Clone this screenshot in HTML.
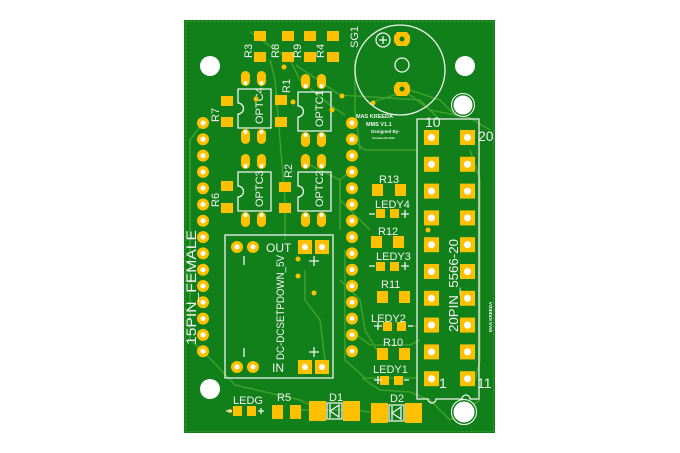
<!DOCTYPE html>
<html><head><meta charset="utf-8"><style>
html,body{margin:0;padding:0;background:#fff;width:680px;height:453px;overflow:hidden}
svg{display:block}
text{font-family:"Liberation Sans",sans-serif;fill:#f2f2f2}
.p{fill:#ffc000}
.s{fill:none;stroke:#f2f2f2;stroke-width:1.3}
.t{fill:none;stroke:#3c9f2c;stroke-width:1.6}
</style></head><body>
<svg width="680" height="453" viewBox="0 0 680 453" xmlns="http://www.w3.org/2000/svg">
<rect x="184" y="20" width="311" height="413" fill="#11801a"/>
<rect x="185.5" y="21.5" width="308" height="410" fill="none" stroke="#3c9f2c" stroke-width="1" stroke-dasharray="2,2"/>
<g class="t">
<path d="M250 32 L290 60 L300 80 L330 105 L345 115"/>
<path d="M296 65 L340 95 L420 100 L440 120"/>
<path d="M372 102 L385 98 L410 90 L440 100 L455 115"/>
<path d="M402 89 L430 110 L470 118 L490 130"/>
<path d="M352 140 L365 150 L417 150"/>
<path d="M370 230 L340 200 L340 180 L352 170"/>
<path d="M345 250 L345 360 L365 378 L417 378"/>
<path d="M340 280 L360 300 L365 330 L380 355"/>
<path d="M203 351 L235 385 L300 400 L320 410"/>
<path d="M203 123 L190 140 L190 340 L203 351"/>
<path d="M362 378 L380 390 L410 392 L430 400 L450 420 L480 400"/>
<path d="M408 326 L417 326"/>
<path d="M350 330 L370 345 L410 345 L420 340"/>
<path d="M470 150 L480 180 L480 360 L475 380"/>
<path d="M355 60 L355 110 L360 150"/>
<path d="M305 270 L305 300 L320 320 L325 360"/>
<path d="M300 410 L355 410 L370 412"/>
<path d="M270 60 L275 80 L285 200 L285 240"/>
<path d="M300 160 L340 180 L340 230"/>
</g>
<circle cx="210" cy="66" r="10" fill="#fff"/>
<circle cx="465" cy="66" r="10" fill="#fff"/>
<circle cx="210" cy="389" r="10" fill="#fff"/>
<circle cx="464" cy="412" r="11" fill="#fff" stroke="#11801a" stroke-width="1"/>
<circle cx="464" cy="412" r="12.5" fill="none" stroke="#fff" stroke-width="1"/>
<circle cx="463" cy="105" r="10" fill="#fff" stroke="#11801a" stroke-width="1"/>
<circle cx="463" cy="105" r="11.5" fill="none" stroke="#fff" stroke-width="1"/>
<g id="hdr">
<g class="p">
<circle cx="203" cy="123" r="6"/><circle cx="203" cy="139.3" r="6"/><circle cx="203" cy="155.6" r="6"/><circle cx="203" cy="171.9" r="6"/><circle cx="203" cy="188.2" r="6"/><circle cx="203" cy="204.5" r="6"/><circle cx="203" cy="220.8" r="6"/><circle cx="203" cy="237.1" r="6"/><circle cx="203" cy="253.4" r="6"/><circle cx="203" cy="269.7" r="6"/><circle cx="203" cy="286" r="6"/><circle cx="203" cy="302.3" r="6"/><circle cx="203" cy="318.6" r="6"/><circle cx="203" cy="334.9" r="6"/><circle cx="203" cy="351.2" r="6"/>
</g>
<g fill="#fff">
<circle cx="203" cy="123" r="2.5"/><circle cx="203" cy="139.3" r="2.5"/><circle cx="203" cy="155.6" r="2.5"/><circle cx="203" cy="171.9" r="2.5"/><circle cx="203" cy="188.2" r="2.5"/><circle cx="203" cy="204.5" r="2.5"/><circle cx="203" cy="220.8" r="2.5"/><circle cx="203" cy="237.1" r="2.5"/><circle cx="203" cy="253.4" r="2.5"/><circle cx="203" cy="269.7" r="2.5"/><circle cx="203" cy="286" r="2.5"/><circle cx="203" cy="302.3" r="2.5"/><circle cx="203" cy="318.6" r="2.5"/><circle cx="203" cy="334.9" r="2.5"/><circle cx="203" cy="351.2" r="2.5"/>
</g>
</g>
<use href="#hdr" x="149"/>
<g class="p">
<rect x="254" y="31" width="12" height="10"/><rect x="254" y="52" width="12" height="10"/>
<rect x="282" y="31" width="12" height="10"/><rect x="282" y="52" width="12" height="10"/>
<rect x="304" y="31" width="12" height="10"/><rect x="304" y="52" width="12" height="10"/>
<rect x="327" y="31" width="12" height="10"/><rect x="327" y="52" width="12" height="10"/>
<rect x="221" y="96" width="12" height="10"/><rect x="221" y="117" width="12" height="10"/>
<rect x="275" y="95" width="12" height="10"/><rect x="275" y="117" width="12" height="10"/>
<rect x="221" y="181" width="12" height="10"/><rect x="221" y="203" width="12" height="10"/>
<rect x="279" y="182" width="12" height="10"/><rect x="279" y="203" width="12" height="10"/>
</g>
<g font-size="11">
<text transform="translate(252,58) rotate(-90)">R3</text>
<text transform="translate(279,58) rotate(-90)">R8</text>
<text transform="translate(301,58) rotate(-90)">R9</text>
<text transform="translate(324,58) rotate(-90)">R4</text>
<text transform="translate(358,48) rotate(-90)">SG1</text>
<text transform="translate(219,122) rotate(-90)">R7</text>
<text transform="translate(219,207) rotate(-90)">R6</text>
<text transform="translate(290,93) rotate(-90)">R1</text>
<text transform="translate(292,178) rotate(-90)">R2</text>
</g>
<g id="opt">
<g class="p">
<rect x="241" y="71" width="9" height="15" rx="4.5"/><rect x="257" y="71" width="9" height="15" rx="4.5"/>
<rect x="241" y="129" width="9" height="15" rx="4.5"/><rect x="257" y="129" width="9" height="15" rx="4.5"/>
</g>
<g fill="#fff"><circle cx="245.5" cy="83" r="2"/><circle cx="261.5" cy="83" r="2"/><circle cx="245.5" cy="132" r="2"/><circle cx="261.5" cy="132" r="2"/></g>
<path class="s" d="M238 89 H271 V128 H238 V114 A5 5 0 0 0 238 103 Z"/>
</g>
<use href="#opt" x="60" y="3"/>
<use href="#opt" x="0" y="83"/>
<use href="#opt" x="60" y="83"/>
<g font-size="11">
<text transform="translate(263,124) rotate(-90)">OPTC4</text>
<text transform="translate(323,127) rotate(-90)">OPTC1</text>
<text transform="translate(263,207) rotate(-90)">OPTC3</text>
<text transform="translate(323,207) rotate(-90)">OPTC2</text>
</g>
<g fill="#ffc000"><circle cx="284" cy="67" r="2.5"/><circle cx="256" cy="99" r="2.5"/><circle cx="293" cy="102" r="2.5"/><circle cx="332" cy="110" r="2.5"/><circle cx="342" cy="96" r="2.5"/><circle cx="373" cy="103" r="2.5"/><circle cx="298" cy="259" r="2.5"/><circle cx="298" cy="276" r="2.5"/><circle cx="314" cy="293" r="2.5"/><circle cx="428" cy="230" r="2.5"/></g>
<circle cx="400" cy="70" r="45" class="s"/>
<circle cx="383" cy="40" r="7" class="s"/>
<path d="M383 36 V44 M379 40 H387" class="s"/>
<polygon class="p" points="397,32 407,32 410,36 410,42 407,46 397,46 394,42 394,36"/>
<circle cx="402" cy="39" r="2.5" fill="#11801a"/>
<circle cx="402" cy="65" r="7" class="s"/>
<polygon class="p" points="397,82 407,82 410,86 410,92 407,96 397,96 394,92 394,86"/>
<circle cx="402" cy="89" r="2.5" fill="#11801a"/>
<g font-weight="bold">
<text x="356" y="118" font-size="5.5">MAS KREEDA</text>
<text x="366" y="126" font-size="5.5">MMS V1.1</text>
<text x="371" y="133" font-size="4.5">Designed By-</text>
<text x="372" y="139" font-size="3">Unnamed1.2012</text>
</g>
<path class="s" d="M417 119 H479 V399 H470 A4 4 0 0 0 462 399 H436 A4 4 0 0 1 428 399 H417 Z"/>
<g id="cp">
<rect class="p" x="424" y="130" width="15" height="15"/><circle cx="431.5" cy="137.5" r="3.5" fill="#fff"/>
<rect class="p" x="460" y="130" width="15" height="15"/><circle cx="467.5" cy="137.5" r="3.5" fill="#fff"/>
</g>
<use href="#cp" y="26.8"/><use href="#cp" y="53.6"/><use href="#cp" y="80.4"/><use href="#cp" y="107.2"/>
<use href="#cp" y="134"/><use href="#cp" y="160.8"/><use href="#cp" y="187.6"/><use href="#cp" y="214.4"/><use href="#cp" y="241.2"/>
<g font-size="14">
<text x="425" y="127">10</text><text x="478" y="141">20</text>
<text x="439" y="388">1</text><text x="477" y="388">11</text>
</g>
<text transform="translate(458,332) rotate(-90)" font-size="13" textLength="93" lengthAdjust="spacingAndGlyphs">20PIN_5566-20</text>
<text transform="translate(492,332) rotate(-90)" font-size="4.5" font-weight="bold">MAS KREEDA</text>
<rect class="s" x="225" y="235" width="108" height="143"/>
<g class="p">
<circle cx="237" cy="247" r="6"/><circle cx="253" cy="247" r="6"/>
<circle cx="237" cy="367" r="6"/><circle cx="253" cy="367" r="6"/>
<rect x="298" y="240" width="14" height="14"/><rect x="315" y="240" width="14" height="14"/>
<rect x="298" y="360" width="14" height="14"/><rect x="315" y="360" width="14" height="14"/>
</g>
<g fill="#fff">
<circle cx="237" cy="247" r="2.5"/><circle cx="253" cy="247" r="2.5"/><circle cx="237" cy="367" r="2.5"/><circle cx="253" cy="367" r="2.5"/>
<circle cx="305" cy="247" r="3"/><circle cx="322" cy="247" r="3"/><circle cx="305" cy="367" r="3"/><circle cx="322" cy="367" r="3"/>
</g>
<g font-size="12">
<text x="266" y="252">OUT</text><text x="272" y="372">IN</text>
</g>
<path class="s" d="M244 256 V265 M244 348 V357 M309 261 H319 M314 256 V266 M309 352 H319 M314 347 V357"/>
<text transform="translate(284,360) rotate(-90)" font-size="11" textLength="105" lengthAdjust="spacingAndGlyphs">DC-DCSETPDOWN_5V</text>
<text transform="translate(196,345) rotate(-90)" font-size="14" textLength="115" lengthAdjust="spacingAndGlyphs">15PIN_FEMALE</text>
<g class="p">
<rect x="372" y="184" width="11" height="12"/><rect x="395" y="184" width="11" height="12"/>
<rect x="376" y="209" width="9" height="9"/><rect x="390" y="209" width="9" height="9"/>
<rect x="371" y="236" width="11" height="12"/><rect x="393" y="236" width="11" height="12"/>
<rect x="376" y="262" width="9" height="9"/><rect x="390" y="262" width="9" height="9"/>
<rect x="377" y="291" width="11" height="12"/><rect x="399" y="291" width="11" height="12"/>
<rect x="383" y="322" width="9" height="9"/><rect x="397" y="322" width="9" height="9"/>
<rect x="377" y="348" width="11" height="12"/><rect x="399" y="348" width="11" height="12"/>
<rect x="380" y="376" width="9" height="9"/><rect x="394" y="376" width="9" height="9"/>
</g>
<g font-size="11">
<text x="379" y="183">R13</text><text x="375" y="208">LEDY4</text>
<text x="378" y="235">R12</text><text x="376" y="260">LEDY3</text>
<text x="381" y="288">R11</text><text x="371" y="322">LEDY2</text>
<text x="383" y="346">R10</text><text x="373" y="373">LEDY1</text>
</g>
<path class="s" d="M369 214 H375 M401 214 H409 M405 210 V218 M369 266 H375 M401 266 H409 M405 262 V270 M374 326 H382 M378 322 V330 M408 326 H413 M374 380 H382 M378 376 V384 M404 380 H409"/>
<g class="p">
<rect x="233" y="406" width="9" height="10"/><rect x="247" y="406" width="9" height="10"/>
<rect x="272" y="405" width="11" height="14"/><rect x="290" y="405" width="11" height="14"/>
<rect x="309" y="401" width="17" height="20"/><rect x="343" y="401" width="17" height="20"/>
<rect x="371" y="403" width="17" height="20"/><rect x="405" y="403" width="17" height="20"/>
</g>
<circle cx="230" cy="411" r="2" fill="#ffc000"/>
<path class="s" d="M226 411 H232 M258 411 H264 M261 408 V414"/>
<g font-size="11">
<text x="233" y="404">LEDG</text><text x="277" y="401">R5</text>
<text x="329" y="401">D1</text><text x="390" y="402">D2</text>
</g>
<path class="s" d="M327 403 H342 V419 H327 Z M339 405 L330 411 L339 417 Z M330 404 V418"/>
<path class="s" d="M389 405 H404 V421 H389 Z M401 407 L392 413 L401 419 Z M392 406 V420"/>
</svg>
</body></html>
